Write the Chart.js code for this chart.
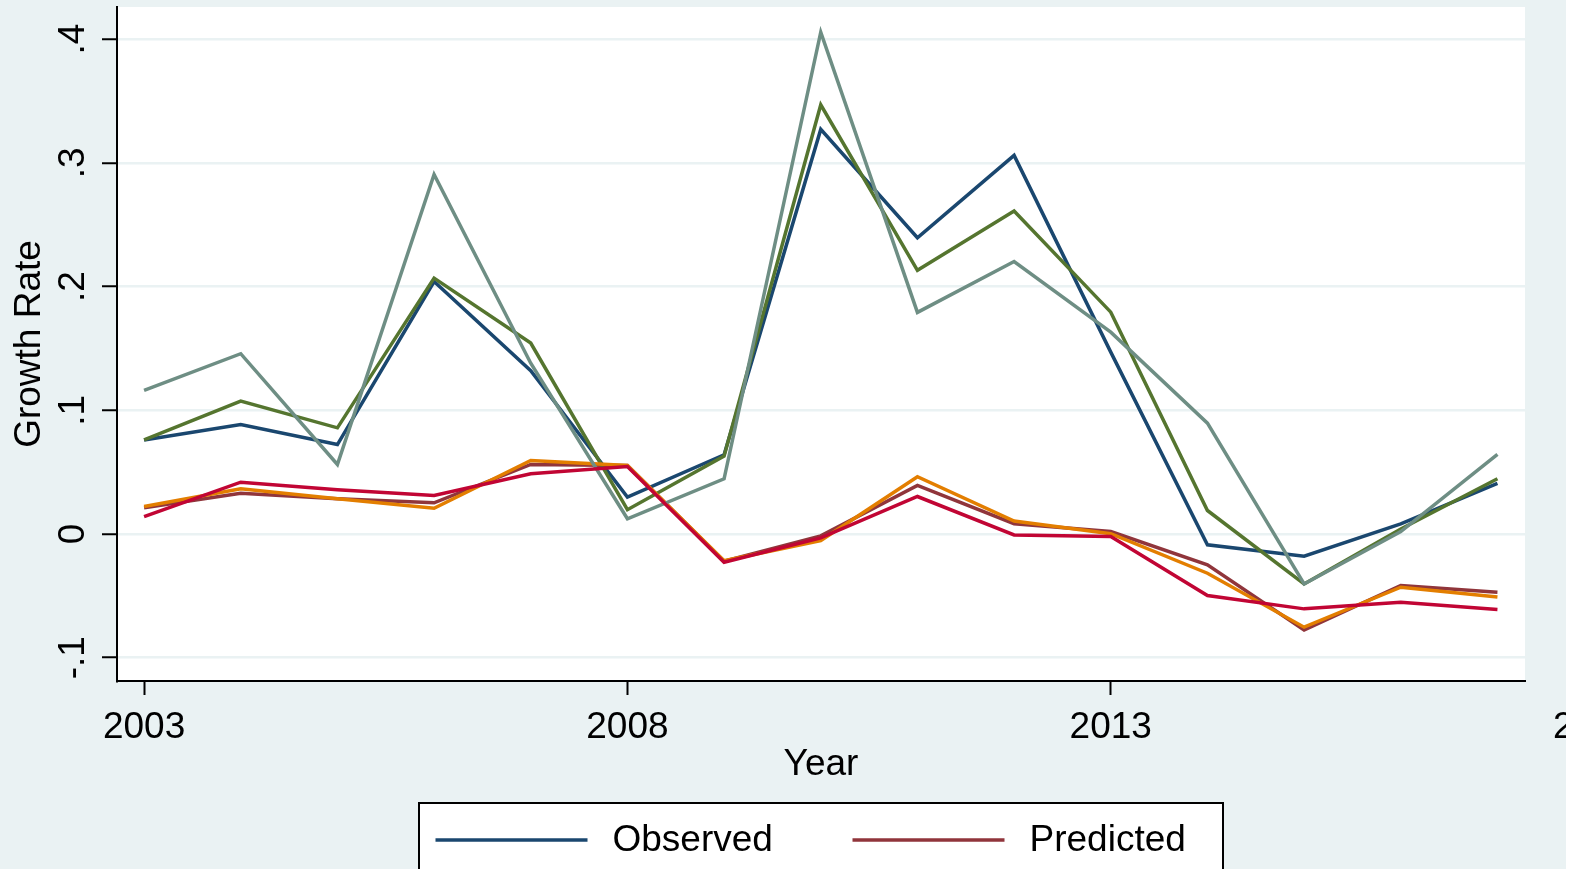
<!DOCTYPE html>
<html>
<head>
<meta charset="utf-8">
<title>Growth Rate</title>
<script src="https://cdn.jsdelivr.net/npm/chart.js@4.4.1/dist/chart.umd.min.js"></script>
<style>
  html, body { margin: 0; padding: 0; background: #ffffff; overflow: hidden; }
  canvas { display: block; }
</style>
</head>
<body>
<canvas id="growthChart" width="1566" height="869"></canvas>
<script>
// ---- data -------------------------------------------------------------
const years = [2003, 2004, 2005, 2006, 2007, 2008, 2009, 2010, 2011, 2012, 2013, 2014, 2015, 2016, 2017];

const observedA  = [0.076, 0.0885, 0.0723, 0.204, 0.132, 0.0298, 0.064, 0.327, 0.2394, 0.306, 0.147, -0.0087, -0.018, 0.0082, 0.041];
const predictedA = [0.0212, 0.033, 0.0284, 0.0252, 0.0562, 0.0554, -0.022, -0.0015, 0.0392, 0.0083, 0.002, -0.0249, -0.0775, -0.0416, -0.047];
const observedB  = [0.0761, 0.1074, 0.0858, 0.2068, 0.1543, 0.0196, 0.063, 0.3469, 0.2131, 0.261, 0.1793, 0.019, -0.0404, 0.004, 0.0446];
const predictedB = [0.0222, 0.0365, 0.0284, 0.0208, 0.0594, 0.0554, -0.0216, -0.0053, 0.0463, 0.0105, 0.0002, -0.0317, -0.0753, -0.043, -0.051];
const observedC  = [0.116, 0.1457, 0.0562, 0.2906, 0.138, 0.0123, 0.0446, 0.4056, 0.1791, 0.2202, 0.1631, 0.0896, -0.0404, 0.002, 0.0643];
const predictedC = [0.0141, 0.0419, 0.0357, 0.0311, 0.0487, 0.0546, -0.0228, -0.0031, 0.0303, -0.0008, -0.002, -0.0497, -0.0605, -0.0551, -0.061];

const xTickYears  = [2003, 2008, 2013, 2018];
const yTickValues = [-0.1, 0, 0.1, 0.2, 0.3, 0.4];
const xRange = [2002.72, 2017.285];
const yRange = [-0.1188, 0.4259];

const legendSeries = ['Observed', 'Predicted'];

// ---- styling ----------------------------------------------------------
const FONT_FAMILY = '"Liberation Sans", Arial, Helvetica, sans-serif';
const FONT_SIZE = 37;
const BG = '#eaf2f3';

const seriesDefs = [
  ['Observed',      observedA,  '#1a476f'],
  ['Predicted',     predictedA, '#90353b'],
  ['Observed (B)',  observedB,  '#55752f'],
  ['Predicted (B)', predictedB, '#e37e00'],
  ['Observed (C)',  observedC,  '#6e8e84'],
  ['Predicted (C)', predictedC, '#c10534']
];

// Stata-like decimal labels: .1, -.1, 0
function fmtDecimal(v) {
  if (Math.abs(v) < 1e-9) return '0';
  const s = Math.abs(v).toFixed(1).replace(/^0/, '');
  return (v < 0 ? '-' : '') + s;
}

// Fixed axis sizes; labels overhanging the ends must not shrink the plot
function fixScale(size) {
  return s => {
    if (s.isHorizontal()) s.height = size; else s.width = size;
    s.paddingLeft = 0;
    s.paddingRight = 0;
    s.paddingTop = 0;
    s.paddingBottom = 0;
  };
}

// Page background, white plot region and the boxed legend underneath
const stataFrame = {
  id: 'stataFrame',
  beforeDraw(chart) {
    const { ctx, chartArea: a, width, height } = chart;
    ctx.save();
    ctx.fillStyle = BG;
    ctx.fillRect(0, 0, width, height);
    ctx.fillStyle = '#ffffff';
    ctx.fillRect(a.left, a.top, a.right - a.left, a.bottom - a.top);
    ctx.restore();
  },
  afterDraw(chart) {
    const { ctx, chartArea: a } = chart;
    const cx = (a.left + a.right) / 2;
    const boxW = 804;
    const left = cx - boxW / 2;
    const top = a.bottom + 122;
    ctx.save();
    ctx.fillStyle = '#ffffff';
    ctx.fillRect(left, top, boxW, 200);
    ctx.strokeStyle = '#000000';
    ctx.lineWidth = 2;
    ctx.strokeRect(left, top, boxW, 200);
    const rowY = top + 37;
    ctx.font = FONT_SIZE + 'px ' + FONT_FAMILY;
    ctx.textBaseline = 'middle';
    ctx.textAlign = 'left';
    legendSeries.forEach((name, k) => {
      const ds = chart.data.datasets.find(d => d.label === name);
      const x0 = left + 16.5 + k * 417;
      ctx.strokeStyle = ds.borderColor;
      ctx.lineWidth = 3.5;
      ctx.beginPath();
      ctx.moveTo(x0, rowY);
      ctx.lineTo(x0 + 152, rowY);
      ctx.stroke();
      ctx.fillStyle = '#000000';
      ctx.fillText(name, x0 + 177, rowY + 1);
    });
    ctx.restore();
  }
};

const font = { family: FONT_FAMILY, size: FONT_SIZE };

new Chart(document.getElementById('growthChart'), {
  type: 'line',
  data: {
    datasets: seriesDefs.map(([label, values, color], i) => ({
      label,
      data: years.map((yr, j) => ({ x: yr, y: values[j] })),
      borderColor: color,
      backgroundColor: color,
      borderWidth: 3.5,
      borderJoinStyle: 'miter',
      pointRadius: 0,
      tension: 0,
      fill: false,
      order: seriesDefs.length - i
    }))
  },
  options: {
    responsive: false,
    animation: false,
    devicePixelRatio: 1,
    events: [],
    layout: { padding: { top: 7, right: 41, bottom: 0, left: 0 } },
    plugins: {
      legend: { display: false },
      tooltip: { enabled: false },
      title: { display: false }
    },
    scales: {
      x: {
        type: 'linear',
        min: xRange[0],
        max: xRange[1],
        afterBuildTicks: s => { s.ticks = xTickYears.map(v => ({ value: v })); },
        afterFit: fixScale(188),
        border: { display: true, color: '#000000', width: 2 },
        grid: { display: true, drawOnChartArea: false, drawTicks: true, tickLength: 14, tickColor: '#000000', tickWidth: 2 },
        ticks: {
          autoSkip: false, minRotation: 0, maxRotation: 0, padding: 11,
          color: '#000000', font, callback: v => String(v)
        },
        title: { display: true, text: 'Year', color: '#000000', font, padding: { top: 0, bottom: 82 } }
      },
      y: {
        type: 'linear',
        min: yRange[0],
        max: yRange[1],
        afterBuildTicks: s => { s.ticks = yTickValues.map(v => ({ value: v })); },
        afterFit: fixScale(117),
        border: { display: true, color: '#000000', width: 2 },
        grid: { color: BG, lineWidth: 2.5, drawTicks: true, tickLength: 15, tickColor: '#000000', tickWidth: 2 },
        ticks: {
          autoSkip: false, minRotation: 90, maxRotation: 90, crossAlign: 'center', padding: 7,
          color: '#000000', font, callback: v => fmtDecimal(v)
        },
        title: { display: true, text: 'Growth Rate', color: '#000000', font, padding: { top: 8, bottom: 0 } }
      }
    }
  },
  plugins: [stataFrame]
});
</script>
</body>
</html>
